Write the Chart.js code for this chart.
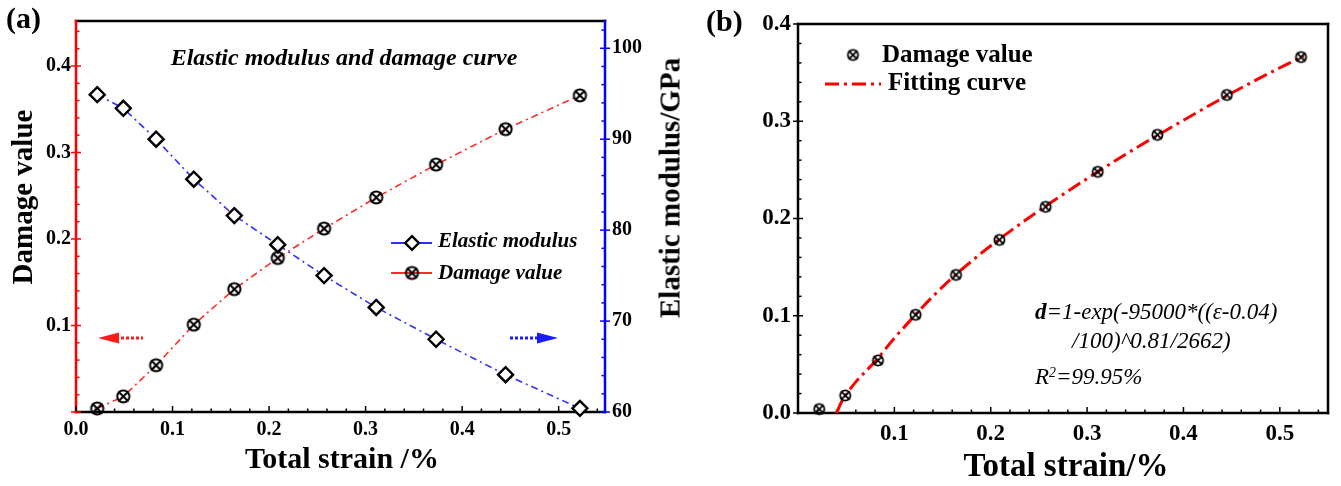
<!DOCTYPE html>
<html lang="en">
<head>
<meta charset="utf-8"/>
<title>Elastic modulus and damage curve</title>
<script src="https://cdn.jsdelivr.net/npm/chart.js@4.4.3/dist/chart.umd.min.js"></script>
<style>
  * { box-sizing: border-box; }
  body {
    margin: 0; background: #fff; width: 1341px; height: 486px; overflow: hidden; position: relative;
    font-family: 'Liberation Serif', 'Times New Roman', serif; color: #000;
  }
  canvas { position: absolute; top: 0; }
  #chartA { left: 0; }
  #chartB { left: 700px; }
  .t { position: absolute; white-space: nowrap; line-height: 1; }
  .b { font-weight: bold; }
  .i { font-style: italic; }
  .c { transform: translateX(-50%); }
  .rot { transform: translate(-50%, -50%) rotate(-90deg); }
  sup { font-size: 0.6em; vertical-align: 0.5em; line-height: 0; }
</style>
</head>
<body>
<canvas id="chartA" width="700" height="486"></canvas>
<canvas id="chartB" width="641" height="486"></canvas>

<div class="t b" style="left:6px;top:3px;font-size:30px">(a)</div>
<div class="t b" style="left:706px;top:6px;font-size:30px">(b)</div>

<div class="t b i c" style="left:344px;top:45px;font-size:24px">Elastic modulus and damage curve</div>
<div class="t b i" style="left:438px;top:230px;font-size:21px">Elastic modulus</div>
<div class="t b i" style="left:438px;top:262px;font-size:21px">Damage value</div>
<div class="t b c" style="left:342px;top:443px;font-size:30px">Total strain /%</div>
<div class="t b rot" style="left:22px;top:197px;font-size:29px">Damage value</div>
<div class="t b rot" style="left:670px;top:188px;font-size:29px">Elastic modulus/GPa</div>

<div class="t b" style="left:882px;top:41px;font-size:25px">Damage value</div>
<div class="t b" style="left:888px;top:69px;font-size:25px">Fitting curve</div>
<div class="t i" style="left:1035px;top:300px;font-size:23px"><b>d</b>=1-exp(-95000*((ε-0.04)</div>
<div class="t i" style="left:1072px;top:329px;font-size:23px">/100)^0.81/2662)</div>
<div class="t i" style="left:1035px;top:365px;font-size:23px">R<sup>2</sup>=99.95%</div>
<div class="t b c" style="left:1066px;top:449px;font-size:33px">Total strain/%</div>

<script>
// values
const strain = [0.022, 0.049, 0.083, 0.122, 0.164, 0.209, 0.257, 0.311, 0.373, 0.445, 0.522];
const damage = [0.004, 0.018, 0.054, 0.101, 0.142, 0.178, 0.212, 0.248, 0.286, 0.327, 0.366];
const modulus = [94.9, 93.4, 90.0, 85.6, 81.6, 78.4, 75.0, 71.5, 68.0, 64.1, 60.4];

// fitting curve in (b), sampled by eye along the red dash-dot line
const fitStrain = [0.040, 0.045, 0.050, 0.060, 0.080, 0.100, 0.120, 0.140, 0.160, 0.180, 0.200, 0.250, 0.300, 0.350, 0.400, 0.450, 0.500, 0.525];
const fitDamage = [0.000, 0.011, 0.019, 0.032, 0.053, 0.077, 0.099, 0.120, 0.139, 0.156, 0.172, 0.208, 0.241, 0.272, 0.301, 0.329, 0.355, 0.367];

const FONT = "'Liberation Serif', 'Times New Roman', serif";
const RED = '#ff2a2a';
const BLUE = '#2f2fff';
const DASHDOT = [7, 4, 2, 4];

Chart.defaults.font.family = FONT;
Chart.defaults.color = '#000';

function makeMarker(size, lw) {
  const c = document.createElement('canvas');
  c.width = size; c.height = size;
  const g = c.getContext('2d');
  const m = size / 2, r = size / 2 - 2.4, d = (size / 2 - 1.5) * 0.72;
  g.strokeStyle = '#000'; g.lineWidth = lw;
  g.beginPath(); g.arc(m, m, r, 0, Math.PI * 2); g.stroke();
  g.beginPath();
  g.moveTo(m - d, m - d); g.lineTo(m + d, m + d);
  g.moveTo(m + d, m - d); g.lineTo(m - d, m + d);
  g.stroke();
  return c;
}
const markerA = makeMarker(17, 2);
const markerB = makeMarker(15, 1.8);

const xy = (xs, ys) => xs.map((x, i) => ({ x, y: ys[i] }));

function frame(chart, col, w) {
  const a = chart.chartArea, ctx = chart.ctx;
  ctx.save();
  ctx.lineWidth = w; ctx.lineCap = 'square';
  const seg = (c, x1, y1, x2, y2) => { ctx.strokeStyle = c; ctx.beginPath(); ctx.moveTo(x1, y1); ctx.lineTo(x2, y2); ctx.stroke(); };
  seg(col.top, a.left, a.top, a.right, a.top);
  seg(col.bottom, a.left, a.bottom, a.right, a.bottom);
  seg(col.left, a.left, a.top, a.left, a.bottom);
  seg(col.right, a.right, a.top, a.right, a.bottom);
  ctx.restore();
}

function ticks(chart, id, step, minor, color, side) {
  const s = chart.scales[id], a = chart.chartArea, ctx = chart.ctx;
  const n = Math.round((s.max - s.min) / minor) + 1;
  ctx.save();
  ctx.strokeStyle = color; ctx.lineWidth = 1.5;
  for (let i = 0; i <= n; i++) {
    const v = s.min + i * minor;
    if (v > s.max + 1e-9) break;
    const major = Math.abs(v / step - Math.round(v / step)) < 1e-6;
    const p = s.getPixelForValue(v);
    ctx.beginPath();
    if (side === 'bottom') {
      ctx.moveTo(p, a.bottom); ctx.lineTo(p, a.bottom - (major ? 6 : 3.5));
    } else if (side === 'left') {
      ctx.moveTo(a.left - (major ? 5 : 0), p); ctx.lineTo(a.left + (major ? 5 : 3.5), p);
    } else {
      ctx.moveTo(a.right + (major ? 5 : 0), p); ctx.lineTo(a.right - (major ? 5 : 3.5), p);
    }
    ctx.stroke();
  }
  ctx.restore();
}

function diamond(ctx, x, y, r) {
  ctx.save();
  ctx.fillStyle = '#fff'; ctx.strokeStyle = '#000'; ctx.lineWidth = 2.4;
  ctx.beginPath();
  ctx.moveTo(x, y - r); ctx.lineTo(x + r, y); ctx.lineTo(x, y + r); ctx.lineTo(x - r, y); ctx.closePath();
  ctx.fill(); ctx.stroke();
  ctx.restore();
}

function hline(ctx, x1, x2, y, color, w, dash) {
  ctx.save();
  ctx.strokeStyle = color; ctx.lineWidth = w; ctx.setLineDash(dash || []);
  ctx.beginPath(); ctx.moveTo(x1, y); ctx.lineTo(x2, y); ctx.stroke();
  ctx.restore();
}

function arrow(ctx, x1, x2, tipX, baseX, y, color) {
  hline(ctx, x1, x2, y, color, 3, [3, 2]);
  ctx.save();
  ctx.fillStyle = color;
  ctx.beginPath(); ctx.moveTo(tipX, y); ctx.lineTo(baseX, y - 5.5); ctx.lineTo(baseX, y + 5.5); ctx.closePath(); ctx.fill();
  ctx.restore();
}

const tickFont = (size) => ({ family: FONT, size, weight: 'bold' });

// ---------------------------------------------------------------------------
// (a) damage value + elastic modulus, double y axis
// ---------------------------------------------------------------------------
const decorA = {
  id: 'decorA',
  beforeDatasetsDraw(chart) {
    frame(chart, { top: '#000', bottom: '#000', left: '#ff0000', right: '#0000ff' }, 2.5);
    ticks(chart, 'x', 0.1, 0.02, '#000', 'bottom');
    ticks(chart, 'y', 0.1, 0.02, '#ff0000', 'left');
    ticks(chart, 'y1', 10, 2, '#0000ff', 'right');
  },
  afterDraw(chart) {
    const ctx = chart.ctx;
    hline(ctx, 391, 432, 243, BLUE, 2.2);
    diamond(ctx, 412, 243, 6.8);
    hline(ctx, 391, 432, 273, RED, 2.2);
    ctx.drawImage(markerA, 412 - 8.5, 273 - 8.5);
    arrow(ctx, 121, 143, 98, 119, 338, '#ff1a1a');
    arrow(ctx, 510, 537, 558, 537, 338, '#1a1aff');
  }
};

new Chart(document.getElementById('chartA'), {
  type: 'line',
  data: {
    datasets: [
      {
        label: 'Elastic modulus', yAxisID: 'y1', data: xy(strain, modulus),
        borderColor: BLUE, borderWidth: 1.6, borderDash: DASHDOT,
        pointStyle: 'rectRot', pointRadius: 7.5, pointBorderWidth: 2.4,
        pointBorderColor: '#000', pointBackgroundColor: '#fff', clip: false
      },
      {
        label: 'Damage value', yAxisID: 'y', data: xy(strain, damage),
        borderColor: RED, borderWidth: 1.6, borderDash: DASHDOT,
        pointStyle: markerA, clip: false
      }
    ]
  },
  options: {
    responsive: false, animation: false, devicePixelRatio: 1,
    layout: { padding: { top: 21, left: 0, right: 0, bottom: 0 } },
    plugins: { legend: { display: false }, tooltip: { enabled: false } },
    scales: {
      x: {
        type: 'linear', min: 0, max: 0.548,
        afterFit(s) { s.height = 74; },
        grid: { display: false, drawTicks: false }, border: { display: false },
        ticks: { stepSize: 0.1, includeBounds: false, padding: 6, font: tickFont(20), callback: (v) => v.toFixed(1) }
      },
      y: {
        position: 'left', min: 0, max: 0.452,
        afterFit(s) { s.width = 76; },
        grid: { display: false, drawTicks: false }, border: { display: false },
        ticks: { stepSize: 0.1, includeBounds: false, padding: 5, font: tickFont(20), callback: (v) => (v === 0 ? '' : v.toFixed(1)) }
      },
      y1: {
        position: 'right', min: 60, max: 103,
        afterFit(s) { s.width = 95; },
        grid: { display: false, drawTicks: false }, border: { display: false },
        ticks: { stepSize: 10, includeBounds: false, padding: 7, font: tickFont(20) }
      }
    }
  },
  plugins: [decorA]
});

// ---------------------------------------------------------------------------
// (b) damage value with fitting curve
// ---------------------------------------------------------------------------
const decorB = {
  id: 'decorB',
  beforeDatasetsDraw(chart) {
    frame(chart, { top: '#000', bottom: '#000', left: '#000', right: '#000' }, 2.5);
    ticks(chart, 'x', 0.1, 0.02, '#000', 'bottom');
    ticks(chart, 'y', 0.1, 0.02, '#000', 'left');
  },
  afterDraw(chart) {
    const ctx = chart.ctx;
    ctx.drawImage(markerB, 153 - 7.5, 55 - 7.5);
    hline(ctx, 125, 181, 84, '#ff0000', 3, [14, 5, 3, 5]);
  }
};

new Chart(document.getElementById('chartB'), {
  type: 'line',
  data: {
    datasets: [
      {
        label: 'Damage value', data: xy(strain, damage), showLine: false,
        pointStyle: markerB, clip: false
      },
      {
        label: 'Fitting curve', data: xy(fitStrain, fitDamage),
        borderColor: '#ff0000', borderWidth: 3, borderDash: [14, 5, 3, 5],
        pointRadius: 0, cubicInterpolationMode: 'monotone', clip: false
      }
    ]
  },
  options: {
    responsive: false, animation: false, devicePixelRatio: 1,
    layout: { padding: { top: 24, left: 0, right: 13, bottom: 0 } },
    plugins: { legend: { display: false }, tooltip: { enabled: false } },
    scales: {
      x: {
        type: 'linear', min: 0, max: 0.55,
        afterFit(s) { s.height = 73; },
        grid: { display: false, drawTicks: false }, border: { display: false },
        ticks: { stepSize: 0.1, includeBounds: false, padding: 7, font: tickFont(23), callback: (v) => (v === 0 ? '' : v.toFixed(1)) }
      },
      y: {
        position: 'left', min: 0, max: 0.4,
        afterFit(s) { s.width = 98; },
        grid: { display: false, drawTicks: false }, border: { display: false },
        ticks: { stepSize: 0.1, padding: 7, font: tickFont(23), callback: (v) => v.toFixed(1) }
      }
    }
  },
  plugins: [decorB]
});
</script>
</body>
</html>
